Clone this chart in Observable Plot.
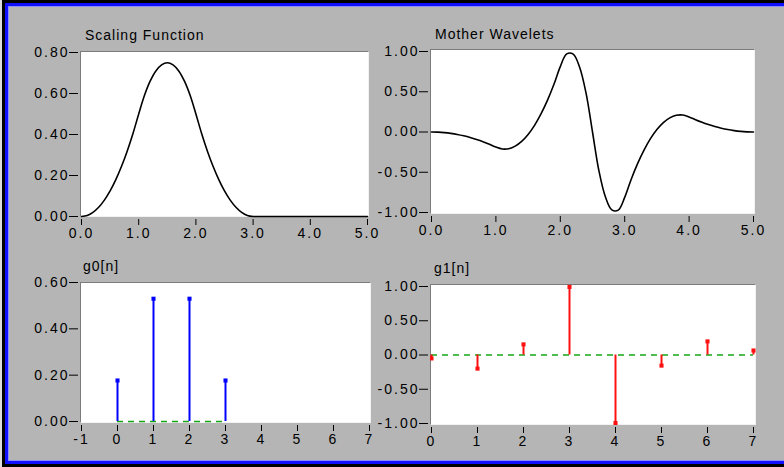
<!DOCTYPE html>
<html><head><meta charset="utf-8">
<script src="https://cdn.jsdelivr.net/npm/d3@7"></script>
<script src="https://cdn.jsdelivr.net/npm/@observablehq/plot@0.6"></script>
<style>
html,body{margin:0;padding:0;background:#b5b5b5;}
#root{position:relative;width:784px;height:467px;overflow:hidden;background:#b5b5b5;font-family:"Liberation Sans",Arial,sans-serif;}
.fr{position:absolute;box-sizing:border-box;}
.title{position:absolute;font-size:14px;line-height:14px;letter-spacing:1px;color:#000;white-space:nowrap;}
.box{position:absolute;box-sizing:border-box;background:#fff;border-top:1px solid #7c7c7c;border-left:1px solid #7c7c7c;border-right:1px solid #f2f2f2;border-bottom:1px solid #f2f2f2;}
</style></head><body><div id="root">
<div class="fr" style="left:0;top:0;width:2px;height:467px;background:#dcdcdc"></div>
<div class="fr" style="left:2px;top:0;width:900px;height:467px;border:3px solid #000"></div>
<div class="fr" style="left:5px;top:3px;width:900px;height:461px;border:3px solid #1010ff"></div>
<div class="fr" style="left:8px;top:6px;width:900px;height:455px;border:1px solid #8c8cff"></div>
</div>
<script>
// ---- data ----
const tX = [0.0,0.1,0.2,0.3,0.4,0.5,0.6,0.7,0.8,0.9,1.0,1.1,1.2,1.3,1.4,1.5,1.6,1.7,1.8,1.9,2.0,2.1,2.2,2.3,2.4,2.5,2.6,2.7,2.8,2.9,3.0,3.1,3.2,3.3,3.4,3.5,3.6,3.7,3.8,3.9,4.0,4.1,4.2,4.3,4.4,4.5,4.6,4.7,4.8,4.9,5.0];
const scalingValues = [0,0.005,0.02,0.045,0.08,0.125,0.18,0.245,0.32,0.405,0.5,0.59,0.66,0.71,0.74,0.75,0.74,0.71,0.66,0.59,0.5,0.405,0.32,0.245,0.18,0.125,0.08,0.045,0.02,0.005,0,0,0,0,0,0,0,0,0,0,0,0,0,0,0,0,0,0,0,0,0];
const waveletValues = [0,-0.002,-0.0075,-0.017,-0.03,-0.047,-0.0675,-0.092,-0.12,-0.152,-0.1875,-0.211,-0.2075,-0.176,-0.1175,-0.031,0.0825,0.224,0.3925,0.589,0.8125,0.97,0.9675,0.805,0.4825,0,-0.4825,-0.805,-0.9675,-0.97,-0.8125,-0.589,-0.3925,-0.224,-0.0825,0.031,0.1175,0.176,0.2075,0.211,0.1875,0.152,0.12,0.092,0.0675,0.047,0.03,0.017,0.0075,0.002,0];
const g0n = [0,1,2,3];
const g0Values = [0.177,0.530,0.530,0.177];
const g1n = [0,1,2,3,4,5,6,7];
const g1Values = [-0.05,-0.199,0.155,0.994,-0.994,-0.155,0.199,0.066];
const titles = ["Scaling Function","Mother Wavelets","g0[n]","g1[n]"];
const xTicksCurve = [0,1,2,3,4,5];
const xTicksG0 = [-1,0,1,2,3,4,5,6,7];
const xTicksG1 = [0,1,2,3,4,5,6,7];
const yTicksScaling = [0,0.2,0.4,0.6,0.8];
const yTicksWavelet = [-1,-0.5,0,0.5,1];
const yTicksG0 = [0,0.2,0.4,0.6];
const yTicksG1 = [-1,-0.5,0,0.5,1];

// ---- tables ----
const scalingData = tX.map((x,i)=>({x, y: scalingValues[i]}));
const waveletData = tX.map((x,i)=>({x, y: waveletValues[i]}));
const g0Data = g0n.map((n,i)=>({n, v: g0Values[i]}));
const g1Data = g1n.map((n,i)=>({n, v: g1Values[i]}));

const root = document.getElementById("root");
const M = {l: 75, t: 10, r: 20, b: 32};
const BLUE = "#0000ff", RED = "#ff1010", GREEN = "#14a614";

function panel({box, inset, xDomain, yDomain, xTicks, yTicks, xFmt, marks, title, titleX, titleBase}) {
  const b = document.createElement("div");
  b.className = "box";
  Object.assign(b.style, {left: box.x+"px", top: box.y+"px", width: box.w+"px", height: box.h+"px"});
  root.appendChild(b);
  const t = document.createElement("div");
  t.className = "title";
  t.textContent = title;
  Object.assign(t.style, {left: titleX+"px", top: (titleBase - 11.85)+"px"});
  root.appendChild(t);
  const width = M.l + box.w + M.r, height = M.t + box.h + M.b;
  const svg = Plot.plot({
    width, height, marginLeft: M.l, marginTop: M.t, marginRight: M.r, marginBottom: M.b,
    x: {domain: xDomain, insetLeft: inset.l, insetRight: inset.r},
    y: {domain: yDomain, insetTop: inset.t, insetBottom: inset.b},
    style: {background: "transparent", fontFamily: "'Liberation Sans', Arial, sans-serif", fontSize: "14px", letterSpacing: "2px", color: "#000", overflow: "visible"},
    marks: [
      Plot.axisY({ticks: yTicks, tickFormat: d => d.toFixed(2), tickSize: 9, tickPadding: 0, dx: -2, label: null}),
      Plot.axisX({ticks: xTicks, tickFormat: xFmt, tickSize: 6, tickPadding: 3, dy: 2, label: null}),
      ...marks
    ]
  });
  Object.assign(svg.style, {position: "absolute", left: (box.x - M.l)+"px", top: (box.y - M.t)+"px"});
  root.appendChild(svg);
}

panel({
  box: {x: 80, y: 51, w: 289, h: 166}, inset: {l: 1, r: 2, t: 1, b: 1},
  xDomain: [0,5], yDomain: [0,0.8], xTicks: xTicksCurve, yTicks: yTicksScaling, xFmt: d => d.toFixed(1),
  title: titles[0], titleX: 85, titleBase: 39.5,
  marks: [Plot.line(scalingData, {x: "x", y: "y", stroke: "#000", strokeWidth: 1.6, curve: "catmull-rom"})]
});
panel({
  box: {x: 430, y: 49, w: 325, h: 165}, inset: {l: 1, r: 2, t: 2, b: 2},
  xDomain: [0,5], yDomain: [-1,1], xTicks: xTicksCurve, yTicks: yTicksWavelet, xFmt: d => d.toFixed(1),
  title: titles[1], titleX: 435, titleBase: 39,
  marks: [Plot.line(waveletData, {x: "x", y: "y", stroke: "#000", strokeWidth: 1.6, curve: "catmull-rom"})]
});
panel({
  box: {x: 80, y: 282, w: 291, h: 141}, inset: {l: 1, r: 2, t: 0, b: 2},
  xDomain: [-1,7], yDomain: [0,0.6], xTicks: xTicksG0, yTicks: yTicksG0, xFmt: d => String(d),
  title: titles[2], titleX: 83, titleBase: 270.5,
  marks: [
    Plot.ruleY([0], {x1: g0n[0], x2: g0n[g0n.length-1], stroke: GREEN, strokeWidth: 1.6, strokeDasharray: "6,5"}),
    Plot.ruleX(g0Data, {x: "n", y1: 0, y2: "v", stroke: BLUE, strokeWidth: 2}),
    Plot.dot(g0Data, {x: "n", y: "v", symbol: "square", r: 2.3, fill: BLUE, stroke: "none"})
  ]
});
panel({
  box: {x: 430, y: 284, w: 326, h: 141}, inset: {l: 1, r: 3, t: 2, b: 2},
  xDomain: [0,7], yDomain: [-1,1], xTicks: xTicksG1, yTicks: yTicksG1, xFmt: d => String(d),
  title: titles[3], titleX: 434, titleBase: 273,
  marks: [
    Plot.ruleY([0], {x1: g1n[0], x2: g1n[g1n.length-1], stroke: GREEN, strokeWidth: 1.6, strokeDasharray: "6,5"}),
    Plot.ruleX(g1Data, {x: "n", y1: 0, y2: "v", stroke: RED, strokeWidth: 2}),
    Plot.dot(g1Data, {x: "n", y: "v", symbol: "square", r: 2.3, fill: RED, stroke: "none", clip: true})
  ]
});
</script>
</body></html>
